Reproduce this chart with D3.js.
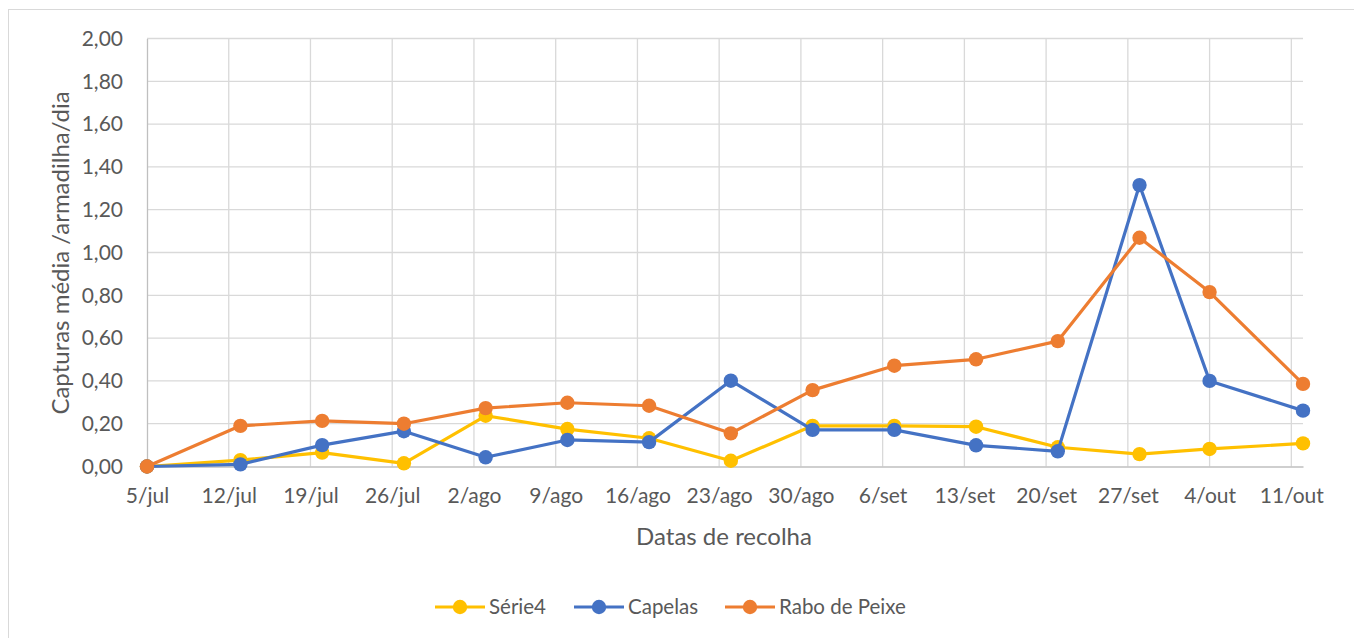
<!DOCTYPE html>
<html>
<head>
<meta charset="utf-8">
<script src="https://cdn.jsdelivr.net/npm/d3@7"></script>
<style>
  html, body { margin: 0; padding: 0; background: #fff; }
  svg { display: block; font-family: Lato, "Open Sans", sans-serif; }
</style>
</head>
<body>
<svg id="chart" width="1354" height="638"></svg>
<script>
// ---- Data ----
const sampleDates = ["2021-07-05","2021-07-13","2021-07-20","2021-07-27","2021-08-03","2021-08-10","2021-08-17","2021-08-24","2021-08-31","2021-09-07","2021-09-14","2021-09-21","2021-09-28","2021-10-04","2021-10-12"];
const serie4 = [0, 0.03, 0.065, 0.015, 0.237, 0.175, 0.132, 0.027, 0.19, 0.19, 0.186, 0.09, 0.058, 0.082, 0.108];
const capelas = [0, 0.01, 0.10, 0.165, 0.043, 0.124, 0.114, 0.401, 0.171, 0.171, 0.099, 0.071, 1.315, 0.40, 0.261];
const raboDePeixe = [0, 0.19, 0.213, 0.20, 0.273, 0.298, 0.284, 0.155, 0.357, 0.471, 0.501, 0.586, 1.069, 0.815, 0.386];
const seriesNames = ["Série4", "Capelas", "Rabo de Peixe"];
const seriesColors = ["#FFC000", "#4472C4", "#ED7D31"];
const tickDates = ["2021-07-05","2021-07-12","2021-07-19","2021-07-26","2021-08-02","2021-08-09","2021-08-16","2021-08-23","2021-08-30","2021-09-06","2021-09-13","2021-09-20","2021-09-27","2021-10-04","2021-10-11"];
const tickLabels = ["5/jul","12/jul","19/jul","26/jul","2/ago","9/ago","16/ago","23/ago","30/ago","6/set","13/set","20/set","27/set","4/out","11/out"];
const yTicks = [0, 0.2, 0.4, 0.6, 0.8, 1.0, 1.2, 1.4, 1.6, 1.8, 2.0];
const xDomain = ["2021-07-05", "2021-10-12"];
const yTitle = "Capturas média  /armadilha/dia";
const xTitle = "Datas de recolha";

// ---- Setup ----
const parse = d3.utcParse("%Y-%m-%d");
const svg = d3.select("#chart");
const pLeft = 147, pRight = 1303, pTop = 38.5, pBottom = 466.5;
const FONT = "Lato, 'Open Sans', sans-serif";

// chart border
svg.append("rect").attr("x", 8.5).attr("y", 9.5).attr("width", 1360).attr("height", 640)
  .attr("fill", "#fff").attr("stroke", "#d9d9d9").attr("stroke-width", 1);

const x = d3.scaleUtc().domain(xDomain.map(parse)).range([pLeft, pRight]);
const y = d3.scaleLinear().domain([0, 2]).range([pBottom, pTop]);

const fmt = v => d3.format(".2f")(v).replace(".", ",");

// horizontal grid
svg.append("g").selectAll("line").data(yTicks.filter(v => v > 0)).join("line")
  .attr("x1", pLeft).attr("x2", pRight)
  .attr("y1", d => y(d)).attr("y2", d => y(d))
  .attr("stroke", "#d9d9d9").attr("stroke-width", 1.3);

// vertical grid
svg.append("g").selectAll("line").data(tickDates.slice(1)).join("line")
  .attr("x1", d => x(parse(d))).attr("x2", d => x(parse(d)))
  .attr("y1", pTop).attr("y2", pBottom)
  .attr("stroke", "#d9d9d9").attr("stroke-width", 1.3);

// axes
const yAxis = d3.axisLeft(y).tickValues(yTicks).tickFormat(fmt).tickSize(0).tickPadding(24);
const gy = svg.append("g").attr("transform", `translate(${pLeft},0)`).call(yAxis);
gy.select(".domain").attr("stroke", "#bfbfbf").attr("stroke-width", 1.3);
gy.selectAll("text").attr("fill", "#595959").style("font-size", "21px").style("font-family", FONT);

const xAxis = d3.axisBottom(x).tickValues(tickDates.map(parse))
  .tickFormat((d, i) => tickLabels[i]).tickSize(0).tickPadding(22);
const gx = svg.append("g").attr("transform", `translate(0,${pBottom})`).call(xAxis);
gx.select(".domain").attr("stroke", "#bfbfbf").attr("stroke-width", 1.3);
gx.selectAll("text").attr("fill", "#595959").style("font-size", "21px").style("font-family", FONT);

// axis titles
svg.append("text").attr("x", 724).attr("y", 545).attr("text-anchor", "middle")
  .attr("fill", "#595959").style("font-size", "24px").text(xTitle);
svg.append("text").attr("transform", "translate(69,253) rotate(-90)").attr("text-anchor", "middle")
  .attr("fill", "#595959").style("font-size", "24px").text(yTitle);

// series
const allSeries = [serie4, capelas, raboDePeixe];
const line = d3.line().x(d => x(d.date)).y(d => y(d.value));
allSeries.forEach((vals, si) => {
  const pts = vals.map((v, i) => ({ date: parse(sampleDates[i]), value: v }));
  const g = svg.append("g");
  g.append("path").datum(pts).attr("d", line).attr("fill", "none")
    .attr("stroke", seriesColors[si]).attr("stroke-width", 3.2).attr("stroke-linejoin", "round");
  g.selectAll("circle").data(pts).join("circle")
    .attr("cx", d => x(d.date)).attr("cy", d => y(d.value)).attr("r", 7.2)
    .attr("fill", seriesColors[si]);
});

// legend
const legendX = [435, 574, 725];
const lg = svg.append("g");
seriesNames.forEach((name, i) => {
  const g = lg.append("g").attr("transform", `translate(${legendX[i]},607)`);
  g.append("line").attr("x1", 0).attr("x2", 50).attr("y1", 0).attr("y2", 0)
    .attr("stroke", seriesColors[i]).attr("stroke-width", 3.2);
  g.append("circle").attr("cx", 25).attr("cy", 0).attr("r", 7.2).attr("fill", seriesColors[i]);
  g.append("text").attr("x", 54).attr("y", 0).attr("dy", "0.35em")
    .attr("fill", "#595959").style("font-size", "20.5px").text(name);
});
</script>
</body>
</html>
